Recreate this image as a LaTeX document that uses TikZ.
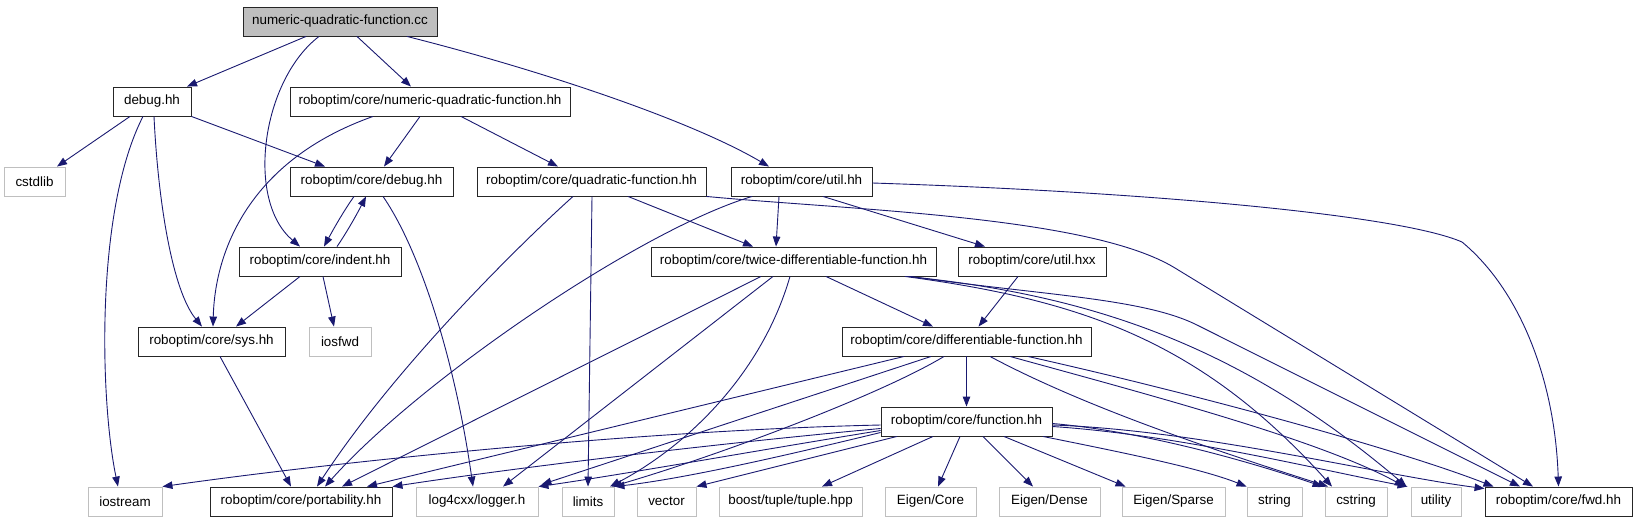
\documentclass[tikz,border=0pt]{standalone}
\usepackage{fontspec}
\setmainfont{Liberation Sans}
\usetikzlibrary{arrows.meta}
\definecolor{edgecol}{HTML}{191970}
\definecolor{extborder}{HTML}{BFBFBF}
\definecolor{ccfill}{HTML}{BFBFBF}
\begin{document}
\begin{tikzpicture}[x=1pt,y=-1pt,
  box/.style={draw=black!85, line width=0.9pt, minimum height=29pt, inner sep=0pt, font=\fontsize{13.4}{15}\selectfont},
  ext/.style={box, draw=extborder},
  edge/.style={draw=edgecol, line width=0.9pt, -{Triangle[length=10pt,width=7.5pt]}, fill=none}]
\useasboundingbox (0,0) rectangle (1637,523);
% nodes
\node[box, fill=ccfill, minimum width=194pt] (cc) at (340,21.5) {numeric-quadratic-function.cc};
\node[box, minimum width=78pt] (debug) at (152,101.5) {debug.hh};
\node[box, minimum width=280pt] (nqf) at (430,101.5) {roboptim/core/numeric-quadratic-function.hh};
\node[ext, minimum width=61pt] (cstdlib) at (34.5,181.5) {cstdlib};
\node[box, minimum width=163pt] (rdebug) at (371.5,181.5) {roboptim/core/debug.hh};
\node[box, minimum width=229pt] (qf) at (591.5,181.5) {roboptim/core/quadratic-function.hh};
\node[box, minimum width=141pt] (util) at (801.5,181.5) {roboptim/core/util.hh};
\node[box, minimum width=162pt] (indent) at (320,261.5) {roboptim/core/indent.hh};
\node[box, minimum width=285pt] (twice) at (793.5,261.5) {roboptim/core/twice-differentiable-function.hh};
\node[box, minimum width=148pt] (utilhxx) at (1032,261.5) {roboptim/core/util.hxx};
\node[box, minimum width=147pt] (sys) at (211.5,341.5) {roboptim/core/sys.hh};
\node[ext, minimum width=62pt] (iosfwd) at (340,341.5) {iosfwd};
\node[box, minimum width=249pt] (diff) at (966.5,341.5) {roboptim/core/differentiable-function.hh};
\node[box, minimum width=171pt] (function) at (966.5,421.5) {roboptim/core/function.hh};
\node[ext, minimum width=74pt] (iostream) at (125,501.5) {iostream};
\node[box, minimum width=182pt] (portability) at (301,501.5) {roboptim/core/portability.hh};
\node[ext, minimum width=122pt] (log4cxx) at (477,501.5) {log4cxx/logger.h};
\node[ext, minimum width=52pt] (limits) at (588,501.5) {limits};
\node[ext, minimum width=59pt] (vector) at (666.5,501.5) {vector};
\node[ext, minimum width=143pt] (tuple) at (790.5,501.5) {boost/tuple/tuple.hpp};
\node[ext, minimum width=91pt] (eigencore) at (930.5,501.5) {Eigen/Core};
\node[ext, minimum width=101pt] (eigendense) at (1049.5,501.5) {Eigen/Dense};
\node[ext, minimum width=103pt] (eigensparse) at (1173.5,501.5) {Eigen/Sparse};
\node[ext, minimum width=55pt] (string) at (1274.5,501.5) {string};
\node[ext, minimum width=62pt] (cstring) at (1356,501.5) {cstring};
\node[ext, minimum width=50pt] (utility) at (1436,501.5) {utility};
\node[box, minimum width=147pt] (fwd) at (1558.5,501.5) {roboptim/core/fwd.hh};
% edges from cc
\draw[edge] ([xshift=-34pt]cc.south) -- ([xshift=35pt]debug.north);
\draw[edge] ([xshift=-21pt]cc.south) .. controls (262,80) and (245,200) .. ([xshift=-20pt]indent.north);
\draw[edge] ([xshift=17pt]cc.south) -- ([xshift=-19pt]nqf.north);
\draw[edge] ([xshift=67pt]cc.south) .. controls (540,70) and (690,120) .. ([xshift=-32.5pt]util.north);
% debug.hh
\draw[edge] ([xshift=-22pt]debug.south) -- ([xshift=22.5pt]cstdlib.north);
\draw[edge] ([xshift=-9pt]debug.south) .. controls (95,210) and (100,400) .. ([xshift=-7pt]iostream.north);
\draw[edge] ([xshift=2pt]debug.south) .. controls (158,200) and (172,290) .. ([xshift=-9.5pt]sys.north);
\draw[edge] (debug.south east) -- ([xshift=-46.5pt]rdebug.north);
% nqf
\draw[edge] ([xshift=-57pt]nqf.south) .. controls (250,160) and (215,250) .. ([xshift=1.5pt]sys.north);
\draw[edge] ([xshift=-10pt]nqf.south) -- ([xshift=12.5pt]rdebug.north);
\draw[edge] ([xshift=31pt]nqf.south) -- ([xshift=-33.5pt]qf.north);
% rdebug / indent
\draw[edge] ([xshift=-17.5pt]rdebug.south) .. controls (343,212) and (333,230) .. ([xshift=4pt]indent.north);
\draw[edge] ([xshift=17pt]indent.north) .. controls (347,232) and (357,214) .. ([xshift=-5.5pt]rdebug.south);
\draw[edge] ([xshift=11.5pt]rdebug.south) .. controls (420,250) and (455,360) .. ([xshift=-4pt]log4cxx.north);
\draw[edge] ([xshift=-20pt]indent.south) -- ([xshift=24.5pt]sys.north);
\draw[edge] ([xshift=3pt]indent.south) -- ([xshift=-6pt]iosfwd.north);
\draw[edge] ([xshift=8.5pt]sys.south) -- ([xshift=-10pt]portability.north);
% qf
\draw[edge] ([xshift=-18.5pt]qf.south) .. controls (530,235) and (400,360) .. ([xshift=16pt]portability.north);
\draw[edge] ([xshift=0.5pt]qf.south) -- (limits.north);
\draw[edge] ([xshift=36.5pt]qf.south) -- ([xshift=-40.5pt]twice.north);
\draw[edge] (qf.south east) .. controls (850,210) and (1090,216) .. (1175,268) -- ([xshift=-25.5pt]fwd.north);
% util
\draw[edge] ([xshift=-49.5pt]util.south) .. controls (640,230) and (420,380) .. ([xshift=24pt]portability.north);
\draw[edge] ([xshift=-22.5pt]util.south) -- ([xshift=-17.5pt]twice.north);
\draw[edge] ([xshift=21.5pt]util.south) -- ([xshift=-47pt]utilhxx.north);
\draw[edge] ([yshift=-1.5pt]util.east) .. controls (1150,192) and (1400,215) .. (1462,242) .. controls (1520,290) and (1555,380) .. (fwd.north);
% twice
\draw[edge] ([xshift=-32.5pt]twice.south) -- ([xshift=41pt]portability.north);
\draw[edge] ([xshift=-20.5pt]twice.south) -- ([xshift=26pt]log4cxx.north);
\draw[edge] ([xshift=-3.5pt]twice.south) .. controls (760,380) and (680,450) .. ([xshift=22pt]limits.north);
\draw[edge] ([xshift=32.5pt]twice.south) -- ([xshift=-33.5pt]diff.north);
\draw[edge] ([xshift=116.5pt]twice.south) .. controls (1040,295) and (1143,298) .. (1197,325) -- ([xshift=-38.5pt]fwd.north);
\draw[edge] ([xshift=111.5pt]twice.south) .. controls (1080,300) and (1200,340) .. ([xshift=-24pt]cstring.north);
\draw[edge] ([xshift=114pt]twice.south) .. controls (1090,295) and (1240,345) .. ([xshift=-4pt]utility.north west);
% util.hxx
\draw[edge] ([xshift=-14pt]utilhxx.south) -- ([xshift=12pt]diff.north);
% diff
\draw[edge] ([xshift=-62.5pt]diff.south) -- ([xshift=66pt]portability.north);
\draw[edge] ([xshift=-35.5pt]diff.south) -- ([xshift=3pt,yshift=2pt]log4cxx.north east);
\draw[edge] ([xshift=-22.5pt]diff.south) .. controls (880,395) and (720,455) .. ([xshift=24pt]limits.north);
\draw[edge] (diff.south) -- (function.north);
\draw[edge] ([xshift=23.5pt]diff.south) .. controls (1090,410) and (1230,455) .. ([xshift=-28pt]cstring.north);
\draw[edge] ([xshift=43.5pt]diff.south) .. controls (1150,395) and (1320,440) .. ([xshift=-6pt]utility.north west);
\draw[edge] ([xshift=61.5pt]diff.south) .. controls (1200,395) and (1400,450) .. ([xshift=-65pt]fwd.north);
% function
\draw[edge] ([yshift=-3.5pt]function.west) .. controls (650,430) and (350,460) .. (iostream.north east);
\draw[edge] ([yshift=-7pt]function.west) .. controls (700,445) and (500,470) .. (portability.north east);
\draw[edge] ([yshift=-9pt]function.west) .. controls (760,450) and (620,475) .. (log4cxx.north east);
\draw[edge] ([yshift=-11pt]function.west) .. controls (800,452) and (690,478) .. (limits.north east);
\draw[edge] ([xshift=-69.5pt]function.south) -- (vector.north east);
\draw[edge] ([xshift=-33.5pt]function.south) -- ([xshift=31.5pt]tuple.north);
\draw[edge] ([xshift=-6.5pt]function.south) -- ([xshift=7.5pt]eigencore.north);
\draw[edge] ([xshift=16.5pt]function.south) -- ([xshift=-16.5pt]eigendense.north);
\draw[edge] ([xshift=37.5pt]function.south) -- ([xshift=4pt]eigensparse.north west);
\draw[edge] ([xshift=76.5pt]function.south) .. controls (1120,452) and (1200,468) .. (string.north west);
\draw[edge] ([yshift=-2pt]function.east) .. controls (1150,432) and (1260,465) .. ([xshift=-2pt]cstring.north west);
\draw[edge] ([yshift=-5pt]function.east) .. controls (1180,435) and (1320,470) .. ([xshift=-3pt]utility.north west);
\draw[edge] ([yshift=-3.5pt]function.east) .. controls (1200,430) and (1380,475) .. ([yshift=-2pt]fwd.north west);
\end{tikzpicture}
\end{document}
